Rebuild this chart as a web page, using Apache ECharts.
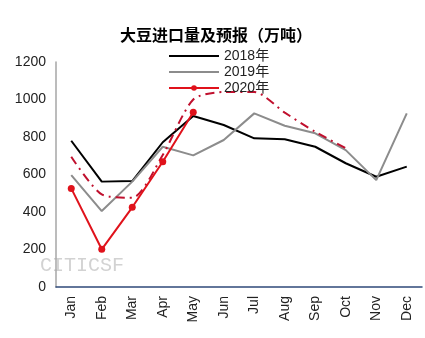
<!DOCTYPE html>
<html>
<head>
<meta charset="utf-8">
<script src="https://cdn.jsdelivr.net/npm/echarts@6/dist/echarts.min.js"></script>
<style>
  html, body { margin: 0; padding: 0; background: #fff; }
  #chart { width: 425px; height: 338px; }
</style>
</head>
<body>
<div id="chart"></div>
<script>
// Monthly soybean imports (10k tonnes)
const months = ['Jan', 'Feb', 'Mar', 'Apr', 'May', 'Jun', 'Jul', 'Aug', 'Sep', 'Oct', 'Nov', 'Dec'];
const imports2018 = [780, 562, 565, 772, 912, 864, 793, 788, 748, 660, 588, 642];
const imports2019 = [597, 405, 562, 748, 702, 784, 926, 860, 820, 730, 570, 926];
const imports2020 = [526, 201, 425, 668, 932];
const forecast2020 = [695, 494, 476, 704, 1000, 1040, 1040, 930, 828, 740];
const yTicks = { min: 0, max: 1200, step: 200 };

const baseFont = "'Liberation Sans', 'Noto Sans CJK SC', sans-serif";
// plain horizontal bar used as the legend swatch for lines without markers
const lineIcon = 'path://M0,0H100V4H0Z';

const chart = echarts.init(document.getElementById('chart'));
chart.setOption({
  animation: false,
  backgroundColor: '#fff',
  title: {
    text: '大豆进口量及预报（万吨）',
    left: 211,
    textAlign: 'center',
    top: 22,
    textStyle: { fontFamily: "'Noto Sans CJK SC', sans-serif", fontSize: 16, fontWeight: 'bold', color: '#000' }
  },
  legend: {
    orient: 'vertical',
    left: 163,
    top: 44,
    itemWidth: 50,
    itemHeight: 7,
    itemGap: 2,
    data: [
      { name: '2018年', icon: lineIcon },
      { name: '2019年', icon: lineIcon },
      { name: '2020年' }
    ],
    textStyle: { fontFamily: baseFont, fontSize: 14, lineHeight: 14, color: '#222' }
  },
  grid: { left: 56, right: 3, top: 62, bottom: 51 },
  xAxis: {
    type: 'category',
    data: months,
    boundaryGap: true,
    axisLine: { show: true, lineStyle: { color: '#2F4A7A', width: 1.5 } },
    axisTick: { show: false },
    axisLabel: { rotate: 90, margin: 9, fontFamily: baseFont, fontSize: 14, color: '#222' }
  },
  yAxis: {
    type: 'value',
    min: yTicks.min,
    max: yTicks.max,
    interval: yTicks.step,
    axisLine: { show: true, lineStyle: { color: '#A6A6A6', width: 1.5 } },
    axisTick: { show: false },
    splitLine: { show: false },
    axisLabel: { margin: 10, fontFamily: baseFont, fontSize: 14, color: '#222', formatter: (v) => String(v) }
  },
  graphic: [{
    type: 'text',
    left: 40,
    top: 256,
    silent: true,
    style: { text: 'CITICSF', fill: '#D2D2D2', font: "20px 'Liberation Mono', monospace" }
  }],
  series: [
    {
      name: '2018年', type: 'line', data: imports2018,
      symbol: 'none', lineStyle: { color: '#000', width: 2 }, itemStyle: { color: '#000' }
    },
    {
      name: '2019年', type: 'line', data: imports2019,
      symbol: 'none', lineStyle: { color: '#8C8C8C', width: 2 }, itemStyle: { color: '#8C8C8C' }
    },
    {
      name: '预报', type: 'line', data: forecast2020,
      symbol: 'none', smooth: 0.25,
      lineStyle: { color: '#C0102E', width: 2, type: [9, 5, 2, 5] }, itemStyle: { color: '#C0102E' }
    },
    {
      name: '2020年', type: 'line', data: imports2020,
      symbol: 'circle', symbolSize: 7,
      lineStyle: { color: '#E0121B', width: 2 }, itemStyle: { color: '#E0121B' }
    }
  ]
});
</script>
</body>
</html>
